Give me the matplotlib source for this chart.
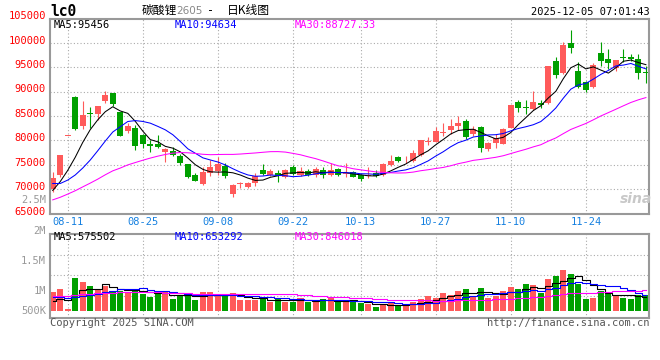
import numpy as np
import pandas as pd
import matplotlib
matplotlib.use("Agg")
import matplotlib.pyplot as plt
import matplotlib.transforms as mtransforms

# -----------------------------
# Data
# -----------------------------
holidays = pd.date_range("2025-10-01", "2025-10-08")
days = pd.bdate_range("2025-08-07", "2025-12-04")
days = days[~days.isin(holidays)]
day_labels = list(days.strftime("%m-%d"))

tick_labels = ["08-11", "08-25", "09-08", "09-22", "10-13", "10-27", "11-10", "11-24"]

opens = [70100, 72900, 81000, 88900, 82950, 85600, 85460, 88060, 89630, 85750,
         81980, 82470, 81100, 79260, 79320, 77690, 77890, 76870, 75110, 72920,
         71080, 73270, 73740, 74770, 68980, 71100, 70530, 71230, 73950, 72990,
         73270, 72450, 74620, 72920, 73810, 72920, 73950, 72990, 74150, 73150,
         73600, 72920, 72700, 73400, 72900, 74970, 76670, 76100, 75790, 77010,
         79700, 79730, 81500, 82130, 83010, 84030, 81250, 82800, 78240, 79410,
         79300, 82600, 87790, 86900, 86420, 87650, 87590, 96240, 93850, 99980,
         94250, 91880, 90980, 97810, 96650, 94740, 97100, 97120, 96580, 94050]
highs = [73600, 77000, 81000, 89000, 88050, 86830, 87100, 90160, 89700, 85870,
         83620, 83150, 81310, 80080, 81100, 78500, 78590, 77220, 75240, 73400,
         74620, 75990, 76670, 75320, 71080, 71550, 71550, 73270, 75170, 74100,
         73950, 74100, 75030, 74500, 74100, 74500, 74620, 75320, 74300, 75300,
         73800, 73100, 74620, 73950, 75320, 77010, 76800, 76800, 78040, 80100,
         80630, 82800, 83500, 84320, 85050, 84300, 82950, 83000, 79730, 81250,
         82600, 87300, 88260, 88260, 90100, 88260, 95300, 97120, 100180, 102580,
         95970, 92150, 95770, 100060, 98690, 96500, 98690, 97600, 97670, 95300]
lows = [69400, 72600, 81000, 82200, 82400, 82600, 84170, 87590, 87030, 80800,
        81570, 78040, 78380, 77690, 78500, 75650, 76810, 74900, 72370, 71700,
        70880, 72720, 72920, 72370, 68490, 70200, 70300, 70680, 72920, 72790,
        71550, 72300, 72920, 72780, 72700, 72580, 72250, 72650, 72700, 72580,
        72500, 71760, 72250, 72600, 72800, 74800, 75600, 75300, 75600, 76900,
        79060, 79600, 80900, 81250, 82130, 80200, 80900, 77570, 77900, 78380,
        79200, 82500, 85750, 85340, 86300, 86560, 87400, 92820, 93580, 97810,
        90650, 89960, 90650, 95220, 94600, 94250, 95970, 96300, 92500, 91700]
closes = [72350, 77000, 81000, 82400, 85200, 85400, 87030, 89280, 87500, 80900,
          82950, 78850, 79260, 78850, 78650, 78300, 77010, 75440, 72580, 71760,
          73600, 74500, 75110, 72780, 70880, 71300, 71350, 72780, 73130, 73740,
          72780, 73950, 73130, 73740, 72990, 74150, 72920, 73950, 72920, 73300,
          72600, 72110, 72900, 72720, 75250, 75790, 75790, 76250, 77360, 80080,
          79850, 81920, 81700, 83010, 83620, 80760, 82330, 78510, 79410, 80550,
          82330, 87240, 86560, 86560, 87790, 87240, 95220, 93370, 99510, 98960,
          90980, 90310, 95420, 96240, 95890, 96440, 96950, 96650, 93700, 93700]
# volume, thousand lots
volumes = [800, 929, 73, 1412, 1228, 1057, 886, 1057, 813, 856,
           813, 929, 702, 599, 788, 843, 501, 642, 642, 458,
           800, 800, 629, 629, 770, 458, 458, 458, 556, 385,
           501, 385, 385, 556, 385, 360, 501, 531, 394, 394,
           385, 317, 287, 146, 244, 317, 231, 201, 385, 501,
           629, 544, 758, 659, 843, 929, 642, 972, 544, 642,
           843, 1014, 929, 1143, 1100, 758, 1357, 1498, 1742, 1584,
           1156, 501, 544, 843, 758, 616, 556, 501, 672, 672]

# sessions before 08-07, estimated from where the MA lines start
prior_close = [61100, 61400, 61800, 61600, 62200, 62700, 62600, 63200, 63800, 63600,
               64400, 65100, 65600, 66800, 68100, 68800, 71600, 74100, 76100, 78600,
               77000, 74000, 72000, 71000, 69000, 68000, 69500, 69000, 70000]
prior_vol = [350, 380, 420, 390, 410, 360, 450, 400, 420, 444,
             700, 820, 950, 1100, 1050, 980, 900, 820, 800, 756,
             900, 850, 780, 760, 710, 380, 300, 270, 250]

price_ma_text = ["MA5:95456", "MA10:94634", "MA30:88727.33"]
vol_ma_text = ["MA5:575502", "MA10:653292", "MA30:846018"]
vol_axis_labels = ["2M", "1.5M", "1M", "500K"]

# -----------------------------
# Style
# -----------------------------
RED = "#FF5A5A"
GREEN = "#00A000"
MA_COLORS = ["#000000", "#0000FF", "#FF00FF"]
GRID = "#AAAAAA"
FRAME = "#999999"
MONO = "DejaVu Sans Mono"
CJK = ["Noto Sans CJK SC", "DejaVu Sans"]
FS = 7.5
W, H = 660, 360


def fx(px):
    return px / W


def fy(py):
    return 1 - py / H


n = len(closes)
x = np.arange(n)
o, h, l, c = map(np.array, (opens, highs, lows, closes))
vol = np.array(volumes) * 1000
col = np.where(c >= o, RED, GREEN)

close_all = pd.Series(prior_close + closes, dtype=float)
vol_all = pd.Series(prior_vol + volumes, dtype=float) * 1000
price_ma = [close_all.rolling(k).mean().to_numpy()[-n:] for k in (5, 10, 30)]
vol_ma = [vol_all.rolling(k).mean().to_numpy()[-n:] for k in (5, 10, 30)]

tick_pos = [day_labels.index(t) for t in tick_labels]

fig = plt.figure(figsize=(6.6, 3.6), dpi=100)
ax = fig.add_axes([fx(50), fy(213.5), fx(599.3), (213.5 - 19) / H])
axv = fig.add_axes([fx(50), fy(318.3), fx(599.3), (318.3 - 234.3) / H])

for a in (ax, axv):
    a.set_xlim(-0.36, n - 0.55)
    for s in a.spines.values():
        s.set_color(FRAME)
        s.set_linewidth(1.5)
    a.set_axisbelow(True)
    a.grid(True, color=GRID, linestyle=(0, (1, 2)), linewidth=0.8)
    a.set_xticks(tick_pos)
    a.tick_params(left=False, labelleft=False, length=0)

# -----------------------------
# Candles
# -----------------------------
ax.set_ylim(65050, 104830)
ax.set_yticks(range(70000, 100001, 5000))
ax.vlines(x, l, h, colors=col, linewidth=0.8, zorder=2)
ax.bar(x, np.maximum(np.abs(c - o), 180), bottom=np.minimum(o, c),
       width=0.8, color=col, linewidth=0, zorder=2)
for ma, color in zip(price_ma, MA_COLORS):
    ax.plot(x, ma, color=color, linewidth=0.75, zorder=3)

ax.set_xticklabels(tick_labels, color="#1580E0", fontsize=FS, family=MONO)
ax.tick_params(axis="x", pad=2.5)

ylab_tr = mtransforms.offset_copy(
    mtransforms.blended_transform_factory(ax.transAxes, ax.transData),
    fig=fig, y=1.5, units="points")
for v in range(65000, 105001, 5000):
    ax.text(-0.007, v, f"{v}", transform=ylab_tr, ha="right", va="center",
            color="red", fontsize=FS, family=MONO, clip_on=False)

for txt, color, px in zip(price_ma_text, MA_COLORS, (54, 174.5, 294.5)):
    fig.text(fx(px), fy(24.5), txt, color=color, fontsize=FS, family=MONO, va="center")

# -----------------------------
# Volume
# -----------------------------
axv.set_ylim(-325e3, 3270e3)
lo, hi = axv.get_ylim()
axv.set_yticks(lo + (hi - lo) * np.array([0.265, 0.51, 0.754]))
axv.tick_params(labelbottom=False)
axv.bar(x, vol, width=0.8, color=col, linewidth=0, zorder=2)
for ma, color in zip(vol_ma, MA_COLORS):
    axv.plot(x, ma, color=color, linewidth=0.8, drawstyle="steps-mid", zorder=3)

for txt, color, px in zip(vol_ma_text, MA_COLORS, (54, 174.5, 294.5)):
    fig.text(fx(px), fy(237.5), txt, color=color, fontsize=FS, family=MONO, va="center")

for txt, py in zip(vol_axis_labels, (231, 261, 291, 311)):
    fig.text(fx(46), fy(py), txt, color="#999999", fontsize=FS, family=MONO,
             ha="right", va="center")
fig.text(fx(46), fy(200), "2.5M", color="#999999", fontsize=FS, family=MONO,
         ha="right", va="center")

# -----------------------------
# Header / footer
# -----------------------------
fig.text(fx(50), fy(11.5), "lc0", fontsize=10.5, fontweight="bold", family=MONO, va="center")
fig.text(fx(141.5), fy(10.5), "碳酸锂", fontsize=8.5, family=CJK, va="center")
fig.text(fx(176), fy(11), "2605", fontsize=7.5, color="#888888", family="DejaVu Sans", va="center")
fig.text(fx(210.5), fy(10.5), "-", fontsize=8.5, family=MONO, ha="center", va="center")
fig.text(fx(227), fy(10.5), "日K线图", fontsize=8.5, family=CJK, va="center")
fig.text(fx(650), fy(12), "2025-12-05 07:01:43", fontsize=FS, family=MONO, ha="right", va="center")
fig.text(fx(50), fy(323.3), "Copyright 2025 SINA.COM", color="#555555", fontsize=FS,
         family=MONO, va="center")
fig.text(fx(649.5), fy(323.3), "http://finance.sina.com.cn", color="#555555", fontsize=FS,
         family=MONO, ha="right", va="center")
fig.text(fx(636), fy(199), "sina", color="#C8C8C8", fontsize=10, fontweight="bold",
         fontstyle="italic", family="DejaVu Sans", ha="center", va="center")

fig.savefig("out.png", dpi=100)
